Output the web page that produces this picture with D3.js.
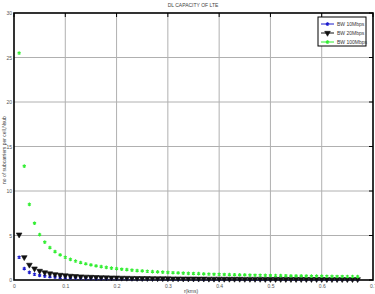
<!DOCTYPE html>
<html>
<head>
<meta charset="utf-8">
<script src="https://cdn.jsdelivr.net/npm/d3@7"></script>
<style>
  body { margin: 0; background: #fff; }
  svg { display: block; font-family: "Liberation Sans", Arial, sans-serif; }
</style>
</head>
<body>
<svg id="chart" width="375" height="294"></svg>
<script>
// rayon (km) des points
const radius = [
  0.01, 0.02, 0.03, 0.04, 0.05, 0.06, 0.07, 0.08, 0.09, 0.10,
  0.11, 0.12, 0.13, 0.14, 0.15, 0.16, 0.17, 0.18, 0.19, 0.20,
  0.21, 0.22, 0.23, 0.24, 0.25, 0.26, 0.27, 0.28, 0.29, 0.30,
  0.31, 0.32, 0.33, 0.34, 0.35, 0.36, 0.37, 0.38, 0.39, 0.40,
  0.41, 0.42, 0.43, 0.44, 0.45, 0.46, 0.47, 0.48, 0.49, 0.50,
  0.51, 0.52, 0.53, 0.54, 0.55, 0.56, 0.57, 0.58, 0.59, 0.60,
  0.61, 0.62, 0.63, 0.64, 0.65, 0.66, 0.67
];

const bw10 = [
  2.55, 1.28, 0.85, 0.64, 0.51, 0.43, 0.36, 0.32, 0.28, 0.26,
  0.23, 0.21, 0.20, 0.18, 0.17, 0.16, 0.15, 0.14, 0.13, 0.13,
  0.12, 0.12, 0.11, 0.11, 0.10, 0.10, 0.09, 0.09, 0.09, 0.09,
  0.08, 0.08, 0.08, 0.08, 0.07, 0.07, 0.07, 0.07, 0.07, 0.06,
  0.06, 0.06, 0.06, 0.06, 0.06, 0.06, 0.05, 0.05, 0.05, 0.05,
  0.05, 0.05, 0.05, 0.05, 0.05, 0.05, 0.04, 0.04, 0.04, 0.04,
  0.04, 0.04, 0.04, 0.04, 0.04, 0.04, 0.04
];

const bw20 = [
  5.10, 2.55, 1.70, 1.28, 1.02, 0.85, 0.73, 0.64, 0.57, 0.51,
  0.46, 0.43, 0.39, 0.36, 0.34, 0.32, 0.30, 0.28, 0.27, 0.26,
  0.24, 0.23, 0.22, 0.21, 0.20, 0.20, 0.19, 0.18, 0.18, 0.17,
  0.16, 0.16, 0.15, 0.15, 0.15, 0.14, 0.14, 0.13, 0.13, 0.13,
  0.12, 0.12, 0.12, 0.12, 0.11, 0.11, 0.11, 0.11, 0.10, 0.10,
  0.10, 0.10, 0.10, 0.09, 0.09, 0.09, 0.09, 0.09, 0.09, 0.09,
  0.08, 0.08, 0.08, 0.08, 0.08, 0.08, 0.08
];

const bw100 = [
  25.5, 12.8, 8.50, 6.38, 5.10, 4.25, 3.64, 3.19, 2.83, 2.55,
  2.32, 2.13, 1.96, 1.82, 1.70, 1.59, 1.50, 1.42, 1.34, 1.28,
  1.21, 1.16, 1.11, 1.06, 1.02, 0.98, 0.94, 0.91, 0.88, 0.85,
  0.82, 0.80, 0.77, 0.75, 0.73, 0.71, 0.69, 0.67, 0.65, 0.64,
  0.62, 0.61, 0.59, 0.58, 0.57, 0.55, 0.54, 0.53, 0.52, 0.51,
  0.50, 0.49, 0.48, 0.47, 0.46, 0.46, 0.45, 0.44, 0.43, 0.43,
  0.42, 0.41, 0.40, 0.40, 0.39, 0.39, 0.38
];

const xTicks = [0, 0.1, 0.2, 0.3, 0.4, 0.5, 0.6, 0.7];
const yTicks = [0, 5, 10, 15, 20, 25, 30];
const seriesNames = ['BW 10Mbps', 'BW 20Mbps', 'BW 100Mbps'];
const seriesColors = ['#1a1acc', '#111111', '#33ee33'];
const seriesShapes = ['star', 'tri', 'star'];

const svg = d3.select('#chart');
const plot = { left: 14, right: 373, top: 13, bottom: 280 };

const x = d3.scaleLinear().domain([0, 0.7]).range([plot.left, plot.right]);
const y = d3.scaleLinear().domain([0, 30]).range([plot.bottom, plot.top]);

// grille
const grid = svg.append('g').attr('class', 'grid');
grid.selectAll('.vg').data(xTicks.slice(1, -1)).join('line')
  .attr('x1', d => x(d)).attr('x2', d => x(d))
  .attr('y1', plot.top).attr('y2', plot.bottom)
  .attr('stroke', '#b0b0b0').attr('stroke-width', 1);
grid.selectAll('.hg').data(yTicks.slice(1, -1)).join('line')
  .attr('x1', plot.left).attr('x2', plot.right)
  .attr('y1', d => y(d)).attr('y2', d => y(d))
  .attr('stroke', '#b0b0b0').attr('stroke-width', 1);

// axes
const xAxis = d3.axisBottom(x).tickValues(xTicks).tickSize(0).tickPadding(4)
  .tickFormat(d => d === 0 ? '0' : d3.format('.1f')(d));
svg.append('g').attr('transform', `translate(0,${plot.bottom})`).call(xAxis)
  .call(g => g.select('.domain').remove())
  .call(g => g.selectAll('text').attr('font-size', 5).attr('fill', '#555').attr('font-family', null));

const yAxis = d3.axisLeft(y).tickValues(yTicks).tickSize(0).tickPadding(2);
svg.append('g').attr('transform', `translate(${plot.left},0)`).call(yAxis)
  .call(g => g.select('.domain').remove())
  .call(g => g.selectAll('text').attr('font-size', 5).attr('fill', '#555').attr('font-family', null));

// petits traits de graduation en haut / à droite
svg.append('g').selectAll('line').data(xTicks).join('line')
  .attr('x1', d => x(d)).attr('x2', d => x(d))
  .attr('y1', plot.top).attr('y2', plot.top + 4)
  .attr('stroke', '#000').attr('stroke-width', 1);
svg.append('g').selectAll('line').data(yTicks).join('line')
  .attr('x1', plot.right - 4).attr('x2', plot.right)
  .attr('y1', d => y(d)).attr('y2', d => y(d))
  .attr('stroke', '#000').attr('stroke-width', 1);

// cadre
svg.append('rect')
  .attr('x', plot.left).attr('y', plot.top)
  .attr('width', plot.right - plot.left).attr('height', plot.bottom - plot.top)
  .attr('fill', 'none').attr('stroke', '#000').attr('stroke-width', 1.6);

const star = d3.symbol().type(d3.symbolAsterisk).size(9);
const tri = d3.symbol().type(d3.symbolTriangle).size(14);

function drawMarker(sel, shape, color) {
  if (shape === 'tri') {
    sel.append('path').attr('d', tri).attr('transform', 'rotate(180)')
      .attr('fill', color).attr('stroke', color).attr('stroke-width', 0.6);
  } else {
    sel.append('path').attr('d', star)
      .attr('fill', 'none').attr('stroke', color).attr('stroke-width', 1.1);
  }
}

const series = [bw10, bw20, bw100];
series.forEach((vals, i) => {
  const g = svg.append('g').attr('class', 'series-' + i);
  const pts = g.selectAll('g').data(radius.map((r, k) => [r, vals[k]])).join('g')
    .attr('transform', d => `translate(${x(d[0])},${y(d[1])})`);
  drawMarker(pts, seriesShapes[i], seriesColors[i]);
});

// titre et libellés
svg.append('text').attr('x', 193).attr('y', 7).attr('text-anchor', 'middle')
  .attr('font-size', 5).attr('fill', '#444').text('DL CAPACITY OF LTE');
svg.append('text').attr('x', 191).attr('y', 293).attr('text-anchor', 'middle')
  .attr('font-size', 5).attr('fill', '#444').text('r(kms)');
svg.append('text').attr('transform', 'translate(5.5,150) rotate(-90)').attr('text-anchor', 'middle')
  .attr('font-size', 5).attr('fill', '#444').text('no of subcarriers per cell,Nsub');

// légende
const leg = svg.append('g');
leg.append('rect').attr('x', 318).attr('y', 17).attr('width', 48).attr('height', 29)
  .attr('fill', '#fff').attr('stroke', '#000').attr('stroke-width', 1);
seriesNames.forEach((name, i) => {
  const ly = 24 + i * 9;
  leg.append('line').attr('x1', 321).attr('x2', 334).attr('y1', ly).attr('y2', ly)
    .attr('stroke', seriesColors[i]).attr('stroke-width', 1);
  const m = leg.append('g').attr('transform', `translate(327.5,${ly})`);
  drawMarker(m, seriesShapes[i], seriesColors[i]);
  leg.append('text').attr('x', 337).attr('y', ly + 1.8).attr('font-size', 5)
    .attr('fill', '#333').text(name);
});
</script>
</body>
</html>
